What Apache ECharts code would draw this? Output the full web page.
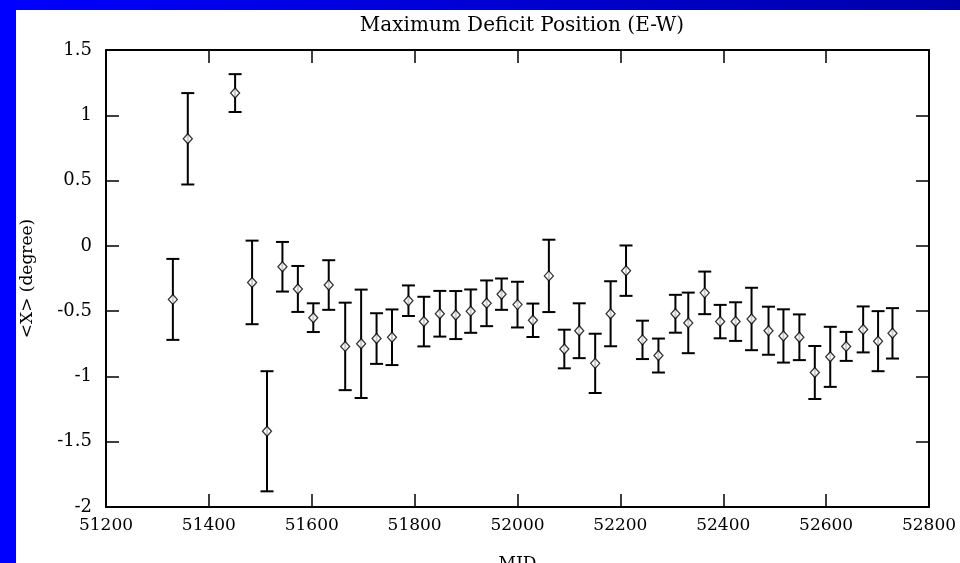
<!DOCTYPE html>
<html>
<head>
<meta charset="utf-8">
<script src="https://cdn.jsdelivr.net/npm/echarts@6/dist/echarts.min.js"></script>
<style>html,body{margin:0;padding:0;background:#fff;}#c{width:960px;height:563px;}</style>
</head>
<body>
<div id="c"></div>
<script>
var titleText = "Maximum Deficit Position (E-W)";
var xName = "MJD";
var yName = "<X> (degree)";
var mjd = [51330, 51359, 51451, 51484, 51513, 51543, 51573, 51603, 51633, 51665, 51696, 51726, 51756, 51788, 51818, 51849, 51880, 51909, 51940, 51969, 52000, 52030, 52061, 52091, 52120, 52151, 52181, 52211, 52243, 52274, 52307, 52332, 52364, 52394, 52424, 52455, 52488, 52517, 52548, 52578, 52608, 52639, 52672, 52701, 52729];
var vals = [-0.41, 0.82, 1.17, -0.28, -1.42, -0.16, -0.33, -0.55, -0.30, -0.77, -0.75, -0.71, -0.70, -0.42, -0.58, -0.52, -0.53, -0.50, -0.44, -0.37, -0.45, -0.57, -0.23, -0.79, -0.65, -0.90, -0.52, -0.19, -0.72, -0.84, -0.52, -0.59, -0.36, -0.58, -0.58, -0.56, -0.65, -0.69, -0.70, -0.97, -0.85, -0.77, -0.64, -0.73, -0.67];
var errs = [0.31, 0.35, 0.145, 0.32, 0.46, 0.19, 0.176, 0.11, 0.19, 0.335, 0.415, 0.194, 0.213, 0.117, 0.19, 0.175, 0.184, 0.166, 0.175, 0.12, 0.175, 0.128, 0.277, 0.148, 0.21, 0.227, 0.249, 0.193, 0.147, 0.13, 0.145, 0.232, 0.163, 0.128, 0.148, 0.239, 0.184, 0.204, 0.175, 0.203, 0.23, 0.111, 0.176, 0.23, 0.193];

var pts = mjd.map(function (m, i) { return [m, vals[i]]; });
var bars = mjd.map(function (m, i) { return [m, vals[i] - errs[i], vals[i] + errs[i]]; });

var serif = "'DejaVu Serif', 'Liberation Serif', serif";
var chart = echarts.init(document.getElementById('c'), null, {renderer: 'canvas'});

function axisCommon() {
  return {
    axisLine: {show: true, onZero: false, lineStyle: {color: '#000', width: 2}},
    axisTick: {show: true, inside: true, length: 13, lineStyle: {color: '#000', width: 1.5}},
    splitLine: {show: false}
  };
}

var xBottom = Object.assign(axisCommon(), {
  type: 'value', min: 51200, max: 52800, interval: 200, position: 'bottom',
  name: xName, nameLocation: 'middle', nameGap: 48,
  nameTextStyle: {color: '#000', fontFamily: serif, fontSize: 17},
  axisLabel: {color: '#000', fontFamily: serif, fontSize: 17, margin: 10,
    formatter: function (v) { return String(v); }}
});
var xTop = Object.assign(axisCommon(), {
  type: 'value', min: 51200, max: 52800, interval: 200, position: 'top',
  axisLabel: {show: false}
});
var yLeft = Object.assign(axisCommon(), {
  type: 'value', min: -2, max: 1.5, interval: 0.5, position: 'left',
  name: yName, nameLocation: 'middle', nameGap: 70,
  nameTextStyle: {color: '#000', fontFamily: serif, fontSize: 17},
  axisLabel: {color: '#000', fontFamily: serif, fontSize: 18, margin: 14}
});
var yRight = Object.assign(axisCommon(), {
  type: 'value', min: -2, max: 1.5, interval: 0.5, position: 'right',
  axisLabel: {show: false}
});

chart.setOption({
  backgroundColor: '#ffffff',
  animation: false,
  title: {
    text: titleText, left: 517, top: 11, textAlign: 'center',
    textStyle: {color: '#000', fontFamily: serif, fontSize: 20, fontWeight: 'normal'}
  },
  graphic: [
    {type: 'rect', left: 0, top: 0, shape: {width: 16, height: 563}, style: {fill: '#0000ff'}, silent: true},
    {type: 'rect', left: 0, top: 0, shape: {width: 960, height: 10},
      style: {fill: new echarts.graphic.LinearGradient(0, 0, 1, 0, [{offset: 0, color: '#0000ff'}, {offset: 1, color: '#0000aa'}])}, silent: true}
  ],
  grid: {left: 106, right: 31, top: 50, bottom: 56, containLabel: false, outerBoundsMode: 'none'},
  xAxis: [xBottom, xTop],
  yAxis: [yLeft, yRight],
  series: [
    {
      type: 'custom',
      xAxisIndex: 0, yAxisIndex: 0,
      data: bars,
      z: 2,
      renderItem: function (params, api) {
        var x = api.value(0);
        var lo = api.coord([x, api.value(1)]);
        var hi = api.coord([x, api.value(2)]);
        var hw = 6.5;
        var st = {stroke: '#000', lineWidth: 2};
        return {
          type: 'group',
          children: [
            {type: 'line', shape: {x1: lo[0], y1: lo[1], x2: hi[0], y2: hi[1]}, style: st},
            {type: 'line', shape: {x1: lo[0] - hw, y1: lo[1], x2: lo[0] + hw, y2: lo[1]}, style: st},
            {type: 'line', shape: {x1: hi[0] - hw, y1: hi[1], x2: hi[0] + hw, y2: hi[1]}, style: st}
          ]
        };
      }
    },
    {
      type: 'scatter',
      xAxisIndex: 0, yAxisIndex: 0,
      data: pts,
      z: 3,
      symbol: 'diamond',
      symbolSize: [9, 10],
      itemStyle: {color: '#ffffff', borderColor: '#000', borderWidth: 1.3}
    }
  ]
});
</script>
</body>
</html>
